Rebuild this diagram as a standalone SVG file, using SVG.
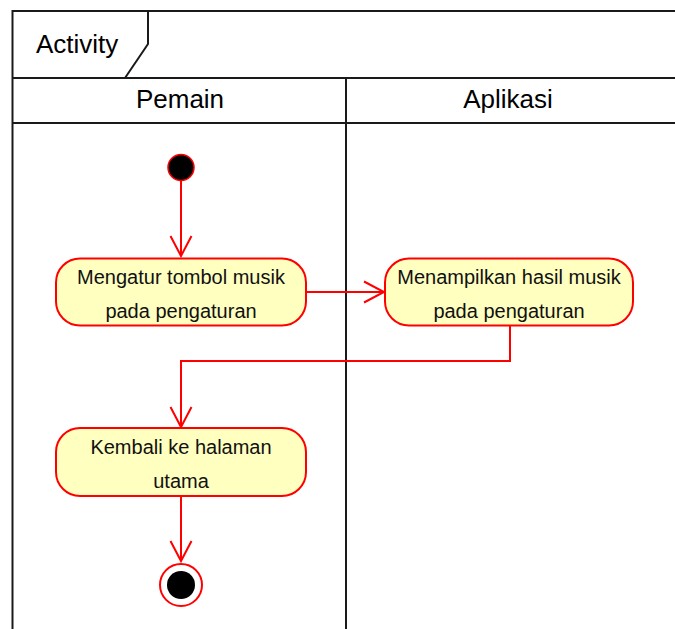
<svg xmlns="http://www.w3.org/2000/svg" width="675" height="629" viewBox="0 0 675 629">
<defs>
<style>
.frame{fill:none;stroke:#1a1a1a;stroke-width:2}
.hdr{font-family:"Liberation Sans",Arial,sans-serif;font-size:26px;fill:#000}
.act rect{fill:#ffffc0;stroke:#ff0000;stroke-width:2}
.act text{font-family:"Liberation Sans",Arial,sans-serif;font-size:20px;fill:#111;text-anchor:middle}
.flow{fill:none;stroke:#ff0000;stroke-width:2}
</style>
<marker id="arr" viewBox="0 0 24 24" refX="21" refY="12" markerWidth="24" markerHeight="24" markerUnits="userSpaceOnUse" orient="auto">
<path d="M1,1.5 L21,12 L1,22.5" fill="none" stroke="#ff0000" stroke-width="2"/>
</marker>
</defs>
<rect width="675" height="629" fill="#ffffff"/>
<g id="frame">
<path class="frame" d="M680,11 H12.5 V640"/>
<path class="frame" d="M148,11 V44 L125,78"/>
<line class="frame" x1="12" y1="78" x2="680" y2="78"/>
<line class="frame" x1="12" y1="123" x2="680" y2="123"/>
<line class="frame" x1="346" y1="78" x2="346" y2="640"/>
<text class="hdr" x="36" y="53">Activity</text>
</g>
<g id="lane-pemain"><text class="hdr" x="180" y="108" text-anchor="middle">Pemain</text></g>
<g id="lane-aplikasi"><text class="hdr" x="508" y="108" text-anchor="middle">Aplikasi</text></g>
<g id="connectors">
<line class="flow" x1="181" y1="181" x2="181" y2="256" marker-end="url(#arr)"/>
<line class="flow" x1="306" y1="292" x2="384" y2="292" marker-end="url(#arr)"/>
<path class="flow" d="M510,325 V361 H181 V427" marker-end="url(#arr)"/>
<line class="flow" x1="181" y1="497" x2="181" y2="561" marker-end="url(#arr)"/>
</g>
<g id="start"><circle cx="181" cy="167.5" r="13" fill="#000" stroke="#ff0000" stroke-width="1.5"/></g>
<g id="act1" class="act">
<rect x="56" y="258.5" width="250" height="67" rx="24"/>
<text x="181" y="284">Mengatur tombol musik</text>
<text x="181" y="318">pada pengaturan</text>
</g>
<g id="act2" class="act">
<rect x="385" y="258.5" width="248" height="67" rx="24"/>
<text x="509" y="284">Menampilkan hasil musik</text>
<text x="509" y="318">pada pengaturan</text>
</g>
<g id="act3" class="act">
<rect x="56" y="428" width="250" height="68" rx="24"/>
<text x="181" y="454">Kembali ke halaman</text>
<text x="181" y="488">utama</text>
</g>
<g id="end">
<circle cx="181" cy="585" r="21" fill="#fff" stroke="#ff0000" stroke-width="2"/>
<circle cx="181" cy="585" r="14" fill="#000"/>
</g>
</svg>
